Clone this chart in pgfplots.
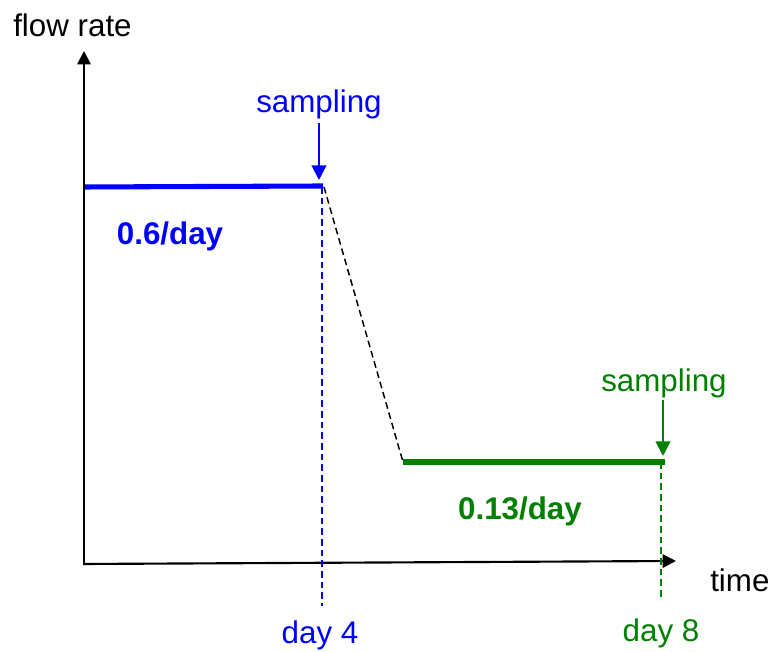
\documentclass[border=0pt]{standalone}
\usepackage{pgfplots}
\pgfplotsset{compat=1.18}
\usepackage{fontspec}
\setmainfont{Liberation Sans}
\usetikzlibrary{arrows.meta}
\definecolor{fblue}{RGB}{0,0,255}
\definecolor{fgreen}{RGB}{0,128,0}
\tikzset{lbl/.style={font=\fontsize{23.5}{28}\selectfont, inner sep=0pt},
         blbl/.style={font=\fontsize{23.5}{28}\selectfont\bfseries, inner sep=0pt}}
\begin{document}
\begin{tikzpicture}
\begin{axis}[
  scale only axis, width=579pt, height=489pt,
  xmin=0, xmax=772, ymin=0, ymax=652,
  hide axis, clip=false,
]
% axes
\addplot[black, line width=1.6pt, -{Triangle[length=10pt,width=10pt]}] coordinates {(84,88) (84,601)};
\addplot[black, line width=1.6pt, -{Triangle[length=10pt,width=10pt]}] coordinates {(83,88) (676,91)};
% dashed guides
\addplot[fblue, line width=1.1pt, dash pattern=on 5pt off 3pt] coordinates {(322,465) (322,46)};
\addplot[fgreen, line width=1.1pt, dash pattern=on 5pt off 3pt] coordinates {(661,190) (661,54)};
\addplot[black, line width=1.1pt, dash pattern=on 5pt off 3pt] coordinates {(324,465) (403,190)};
% flow rate levels
\addplot[fblue, line width=3.8pt] coordinates {(85,465) (323,466)};
\addplot[fgreen, line width=3.8pt] coordinates {(403,190) (665,190)};
% sampling arrows
\addplot[fblue, line width=1.6pt, -{Triangle[length=11pt,width=11pt]}] coordinates {(319,529) (319,472)};
\addplot[fgreen, line width=1.6pt, -{Triangle[length=11pt,width=11pt]}] coordinates {(663,252) (663,196)};
% labels
\node[lbl, anchor=base west] at (axis cs:13,615) {flow rate};
\node[lbl, anchor=base west] at (axis cs:710,60) {time};
\node[lbl, anchor=base, fblue] at (axis cs:319,539) {sampling};
\node[lbl, anchor=base, fgreen] at (axis cs:664,260) {sampling};
\node[blbl, anchor=base, fblue] at (axis cs:170,407) {0.6/day};
\node[blbl, anchor=base, fgreen] at (axis cs:520,132) {0.13/day};
\node[lbl, anchor=base, fblue] at (axis cs:320,8) {day 4};
\node[lbl, anchor=base, fgreen] at (axis cs:661,10) {day 8};
\end{axis}
\pgfresetboundingbox
\path (current axis.south west) rectangle (current axis.north east);
\end{tikzpicture}
\end{document}
